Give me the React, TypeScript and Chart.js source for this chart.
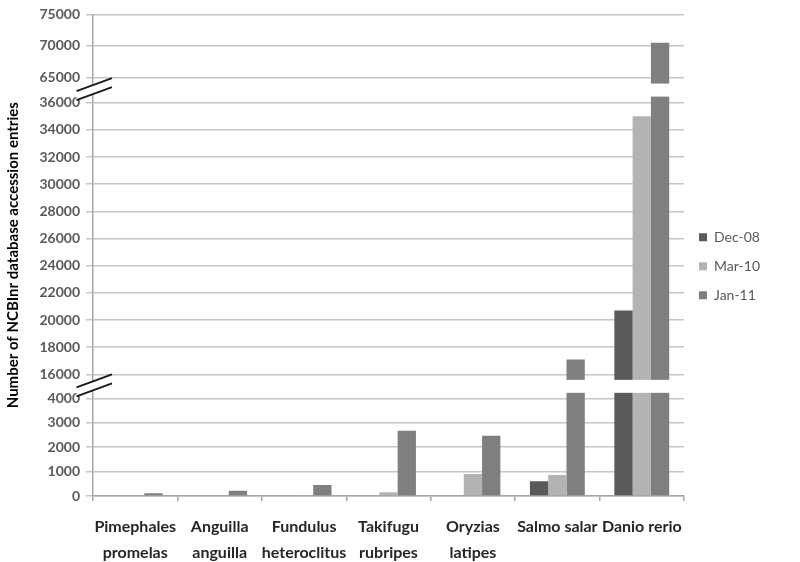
import React, { useEffect, useRef } from 'react';
import { Chart, registerables, LinearScale } from 'chart.js';

Chart.register(...registerables);

// ---------- data ----------
const categories: string[][] = [
  ['Pimephales', 'promelas'],
  ['Anguilla', 'anguilla'],
  ['Fundulus', 'heteroclitus'],
  ['Takifugu', 'rubripes'],
  ['Oryzias', 'latipes'],
  ['Salmo salar'],
  ['Danio rerio'],
];
const seriesNames = ['Dec-08', 'Mar-10', 'Jan-11'];
const dec08 = [0, 0, 0, 0, 0, 600, 20700];
const mar10 = [0, 0, 40, 150, 900, 860, 35000];
const jan11 = [110, 210, 450, 2670, 2470, 17100, 70500];
const seriesColors = ['#5a5a5a', '#b3b3b3', '#7f7f7f'];

const yTicks = [
  0, 1000, 2000, 3000, 4000,
  16000, 18000, 20000, 22000, 24000, 26000, 28000, 30000, 32000, 34000, 36000,
  65000, 70000, 75000,
];
// broken axis: [value, fraction of axis height]
const axisStops: number[][] = [
  [0, 0],
  [4000, 0.2028],
  [16000, 0.2526],
  [36000, 0.8165],
  [65000, 0.8692],
  [75000, 1],
];
const axisBreaks: number[][] = [
  [4000, 16000],
  [36000, 65000],
];

function toDecimal(v: number): number {
  const s = axisStops;
  let i = 0;
  while (i < s.length - 2 && v > s[i + 1][0]) i++;
  const [v0, d0] = s[i];
  const [v1, d1] = s[i + 1];
  return d0 + ((v - v0) / (v1 - v0)) * (d1 - d0);
}
function fromDecimal(d: number): number {
  const s = axisStops;
  let i = 0;
  while (i < s.length - 2 && d > s[i + 1][1]) i++;
  const [v0, d0] = s[i];
  const [v1, d1] = s[i + 1];
  return v0 + ((d - d0) / (d1 - d0)) * (v1 - v0);
}

class BrokenLinearScale extends LinearScale {
  static id = 'brokenLinear';
  static defaults = {};
  determineDataLimits() {
    (this as any).min = axisStops[0][0];
    (this as any).max = axisStops[axisStops.length - 1][0];
  }
  buildTicks() {
    return yTicks.map((value) => ({ value }));
  }
  getPixelForValue(value: number) {
    if (value === null || value === undefined) return NaN;
    return (this as any).getPixelForDecimal(toDecimal(value));
  }
  getValueForPixel(pixel: number) {
    return fromDecimal((this as any).getDecimalForPixel(pixel));
  }
}
Chart.register(BrokenLinearScale as any);

const brokenAxisPlugin = {
  id: 'brokenAxisMarks',
  afterDatasetsDraw(chart: any) {
    const y = chart.scales.y;
    const { left, right } = chart.chartArea;
    const ctx = chart.ctx;
    ctx.save();
    ctx.fillStyle = '#ffffff';
    axisBreaks.forEach(([a, b]) => {
      const mid = (y.getPixelForValue(a) + y.getPixelForValue(b)) / 2;
      ctx.fillRect(left + 2, mid - 6.5, right - left - 2, 13);
    });
    ctx.restore();
  },
  afterDraw(chart: any) {
    const y = chart.scales.y;
    const ax = chart.chartArea.left;
    const ctx = chart.ctx;
    ctx.save();
    axisBreaks.forEach(([a, b]) => {
      const m = (y.getPixelForValue(a) + y.getPixelForValue(b)) / 2;
      ctx.fillStyle = '#ffffff';
      ctx.beginPath();
      ctx.moveTo(ax - 16.5, m + 1);
      ctx.lineTo(ax + 19, m - 12);
      ctx.lineTo(ax + 19, m - 3);
      ctx.lineTo(ax - 16.5, m + 10);
      ctx.closePath();
      ctx.fill();
      ctx.strokeStyle = '#1a1a1a';
      ctx.lineWidth = 2;
      ctx.beginPath();
      ctx.moveTo(ax - 16.5, m + 1);
      ctx.lineTo(ax + 19, m - 12);
      ctx.moveTo(ax - 16.5, m + 10);
      ctx.lineTo(ax + 19, m - 3);
      ctx.stroke();
    });
    ctx.restore();
  },
};

export default function App() {
  const ref = useRef<HTMLCanvasElement | null>(null);
  useEffect(() => {
    if (!ref.current) return;
    const seriesData = [dec08, mar10, jan11];
    const chart = new Chart(ref.current, {
      type: 'bar',
      data: {
        labels: categories as any,
        datasets: seriesNames.map((name, i) => ({
          label: name,
          data: seriesData[i],
          backgroundColor: seriesColors[i],
          borderWidth: 0,
          barPercentage: 1,
          categoryPercentage: 0.65,
        })),
      },
      options: {
        animation: false,
        responsive: false,
        maintainAspectRatio: false,
        layout: { padding: { top: 0, right: 30, bottom: 0, left: 0 } },
        plugins: {
          legend: {
            position: 'right',
            fullSize: false,
            title: {
              display: true,
              text: '',
              font: { size: 10 },
              padding: { top: 10, bottom: 0 },
            },
            labels: {
              boxWidth: 8,
              boxHeight: 8,
              padding: 15,
              color: '#595959',
              font: { family: 'Lato', size: 14 },
            },
          },
          tooltip: { enabled: false },
        },
        scales: {
          x: {
            afterFit: (scale: any) => {
              scale.height = 66;
            },
            grid: {
              display: true,
              offset: true,
              drawOnChartArea: false,
              drawTicks: true,
              tickLength: 5,
              color: '#a6a6a6',
              lineWidth: 1.5,
            },
            border: { color: '#a6a6a6', width: 1.5 },
            ticks: {
              color: '#262626',
              padding: 13,
              maxRotation: 0,
              autoSkip: false,
              font: { family: 'Lato', size: 16, weight: 'bold', lineHeight: 1.6 },
            },
          },
          y: {
            type: 'brokenLinear' as any,
            afterFit: (scale: any) => {
              scale.width = 93;
            },
            grid: {
              color: '#c6c6c6',
              lineWidth: 1.5,
              tickLength: 7,
            },
            border: { color: '#a6a6a6', width: 1.5 },
            ticks: {
              color: '#595959',
              padding: 6,
              autoSkip: false,
              font: { family: 'Lato', size: 14, weight: 'bold' },
              callback: (v: any) => String(v),
            },
            title: {
              display: true,
              text: 'Number of NCBInr database accession entries',
              color: '#000000',
              font: { family: 'Lato', size: 15, weight: 'bold' },
              padding: { top: 4, bottom: 11 },
            },
          },
        },
      },
      plugins: [brokenAxisPlugin],
    } as any);
    return () => chart.destroy();
  }, []);
  return (
    <div style={{ position: 'absolute', left: 0, top: 0, width: 800, height: 562 }}>
      <canvas ref={ref} width={800} height={562} style={{ display: 'block' }} />
    </div>
  );
}
